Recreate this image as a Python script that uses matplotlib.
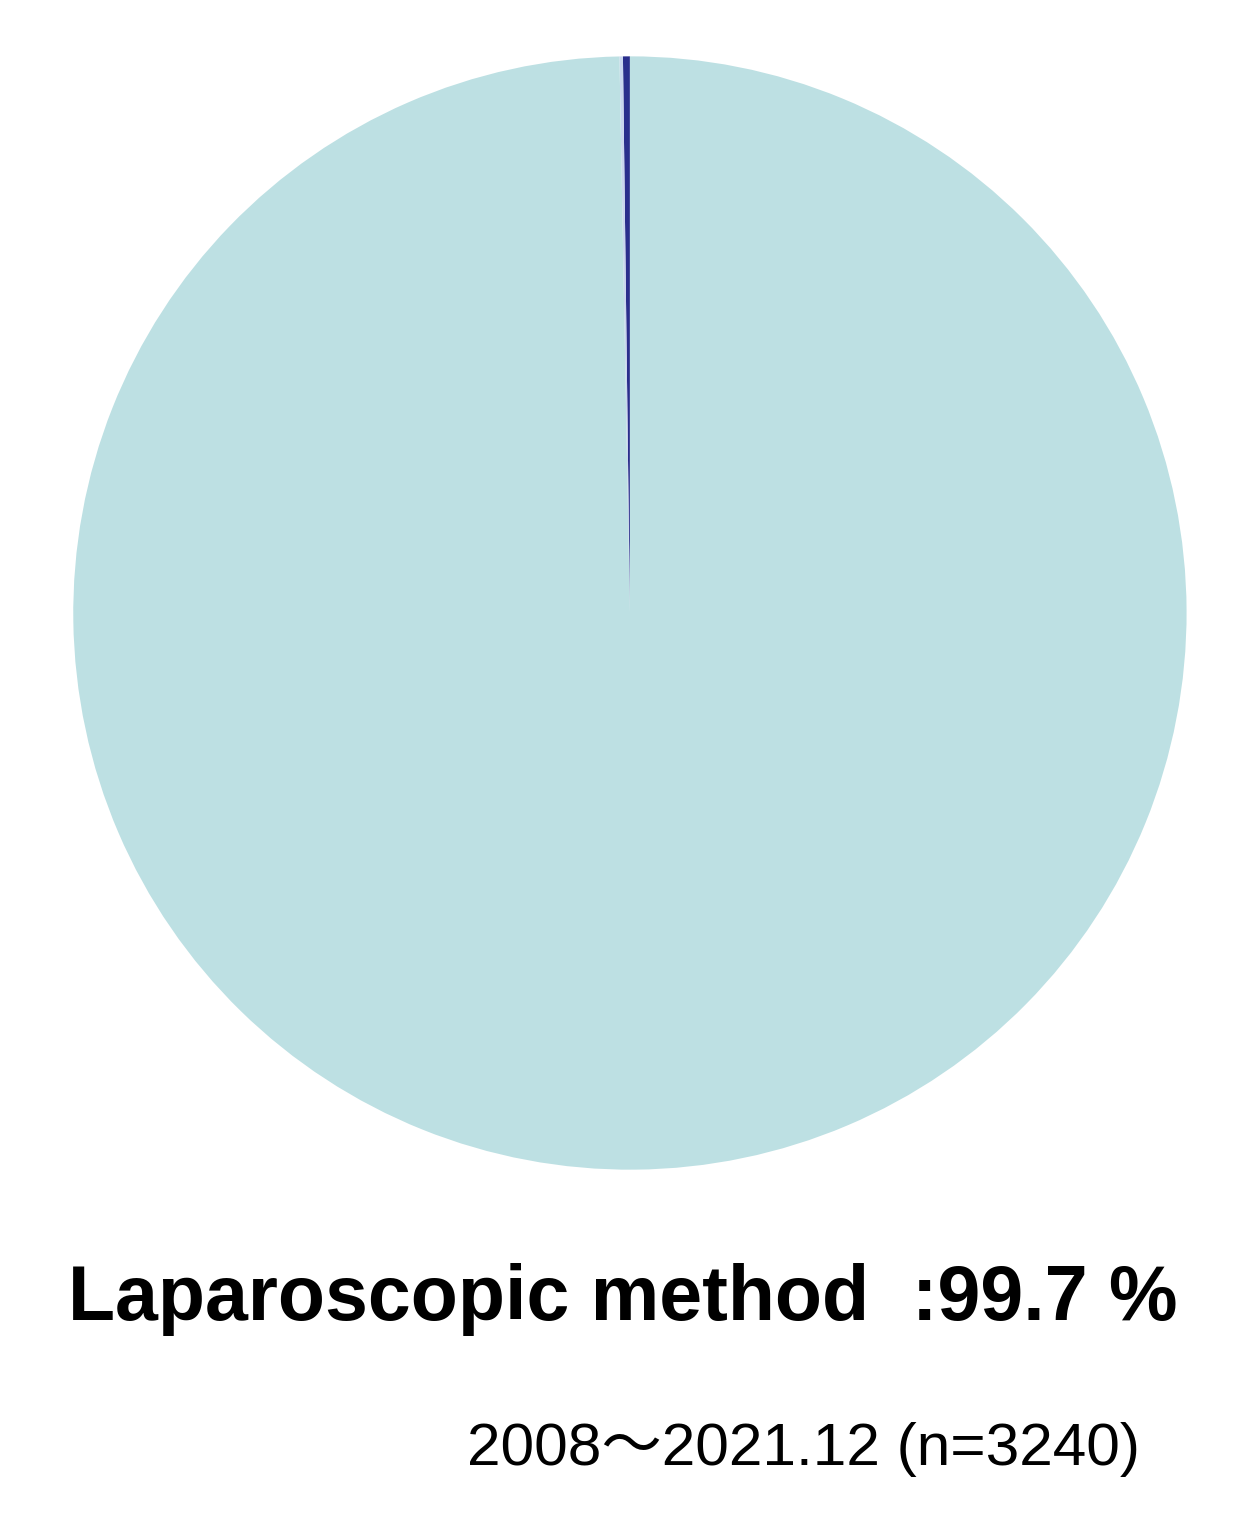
import matplotlib.pyplot as plt

labels = ['Open method', 'Conversion', 'Laparoscopic method']
shares = [0.2, 0.1, 99.7]
colors = ['#2a2e8c', '#c9d6ee', '#bde0e3']

main_label = 'Laparoscopic method  :99.7 %'
period = '2008\uff5e2021.12 (n=3240)'

fig = plt.figure(figsize=(12.4, 15.23), dpi=100)
ax = fig.add_axes([0.059, 0.232, 0.898, 0.731])
ax.pie(shares, colors=colors, startangle=90, counterclock=True,
       wedgeprops=dict(linewidth=0))
ax.set_xlim(-1, 1)
ax.set_ylim(-1, 1)
ax.set_aspect('equal')
ax.axis('off')

fig.text(0.502, 1 - 1320 / 1523, main_label, ha='center', va='baseline',
         fontsize=55.5, fontweight='bold', family=['Liberation Sans', 'DejaVu Sans'])
fig.text(1140 / 1240, 1 - 1465 / 1523, period, ha='right', va='baseline',
         fontsize=43.5, family=['Liberation Sans', 'Noto Sans CJK JP'])

fig.savefig('out.png', dpi=100)
